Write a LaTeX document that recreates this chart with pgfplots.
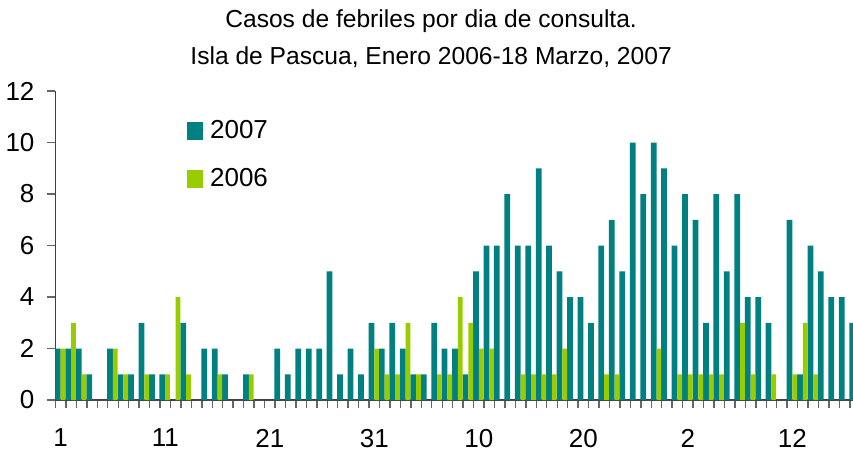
\documentclass[border=0pt]{standalone}
\usepackage{fontspec}
\setmainfont{Liberation Sans}
\usepackage{pgfplots}
\usepackage{pgfplotstable}
\pgfplotsset{compat=1.18}
\definecolor{teal07}{HTML}{008080}
\definecolor{lime06}{HTML}{99CC00}

% day: 1-31 enero, 32-59 febrero, 60-77 marzo
\pgfplotstableread{
day y2007 y2006
1 2 2
2 2 3
3 2 1
4 1 0
5 0 0
6 2 2
7 1 1
8 1 0
9 3 1
10 1 0
11 1 1
12 0 4
13 3 1
14 0 0
15 2 0
16 2 1
17 1 0
18 0 0
19 1 1
20 0 0
21 0 0
22 2 0
23 1 0
24 2 0
25 2 0
26 2 0
27 5 0
28 1 0
29 2 0
30 1 0
31 3 2
32 2 1
33 3 1
34 2 3
35 1 1
36 1 0
37 3 1
38 2 1
39 2 4
40 1 3
41 5 2
42 6 2
43 6 0
44 8 0
45 6 1
46 6 1
47 9 1
48 6 1
49 5 2
50 4 0
51 4 0
52 3 0
53 6 1
54 7 1
55 5 0
56 10 0
57 8 0
58 10 2
59 9 0
60 6 1
61 8 1
62 7 1
63 3 1
64 8 1
65 5 0
66 8 3
67 4 1
68 4 0
69 3 1
70 0 0
71 7 1
72 1 3
73 6 1
74 5 0
75 4 0
76 4 0
77 3 0
}\datos

\begin{document}
\begin{tikzpicture}
\begin{axis}[
  scale only axis,
  width=398.75pt, height=154.5pt,
  xmin=0.5, xmax=76.8, ymin=0, ymax=12,
  axis x line=bottom, axis y line=left,
  axis line style={-, black!75, line width=0.7pt},
  tick style={black!60, line width=0.7pt},
  tick align=outside,
  major tick length=4pt,
  xtick={0.5,1.5,...,76.5}, xticklabels={},
  extra x ticks={1,11,21,31,41,51,61,71},
  extra x tick labels={1,11,21,31,10,20,2,12},
  extra x tick style={major tick length=0pt, tick label style={yshift=-11pt}},
  ytick={0,2,...,12},
  yticklabel style={xshift=-3pt},
  tick label style={font=\fontsize{13}{15}\selectfont},
  /pgf/number format/assume math mode=true,
  title={Casos de febriles por dia de consulta.\\Isla de Pascua, Enero 2006-18 Marzo, 2007},
  title style={at={(0.471,1)}, anchor=south, inner sep=0pt, yshift=5.5pt,
    align=center, font=\fontsize{12.3}{18.5}\selectfont},
  legend style={at={(0.1645,0.92)}, anchor=north west, draw=none, fill=none,
    inner sep=0pt, row sep=9.5pt, font=\fontsize{13}{15}\selectfont},
  legend cell align=left,
  legend image code/.code={\fill[#1] (0pt,-4.5pt) rectangle (8pt,4.5pt);
    \path (0pt,0pt) -- (9.5pt,0pt);},
]
\addplot[ybar, bar width=0.55, bar shift=0pt, fill=teal07, draw=none]
  table[x expr=\thisrow{day}-0.275, y=y2007]{\datos};
\addplot[ybar, bar width=0.45, bar shift=0pt, fill=lime06, draw=none]
  table[x expr=\thisrow{day}+0.225, y=y2006]{\datos};
\legend{2007, 2006}
\coordinate (bl) at (rel axis cs:0,0);
\end{axis}
\pgfresetboundingbox
\path[use as bounding box] ([xshift=-27.75pt,yshift=-26pt]bl) rectangle ([xshift=398.75pt,yshift=200pt]bl);
\end{tikzpicture}
\end{document}
